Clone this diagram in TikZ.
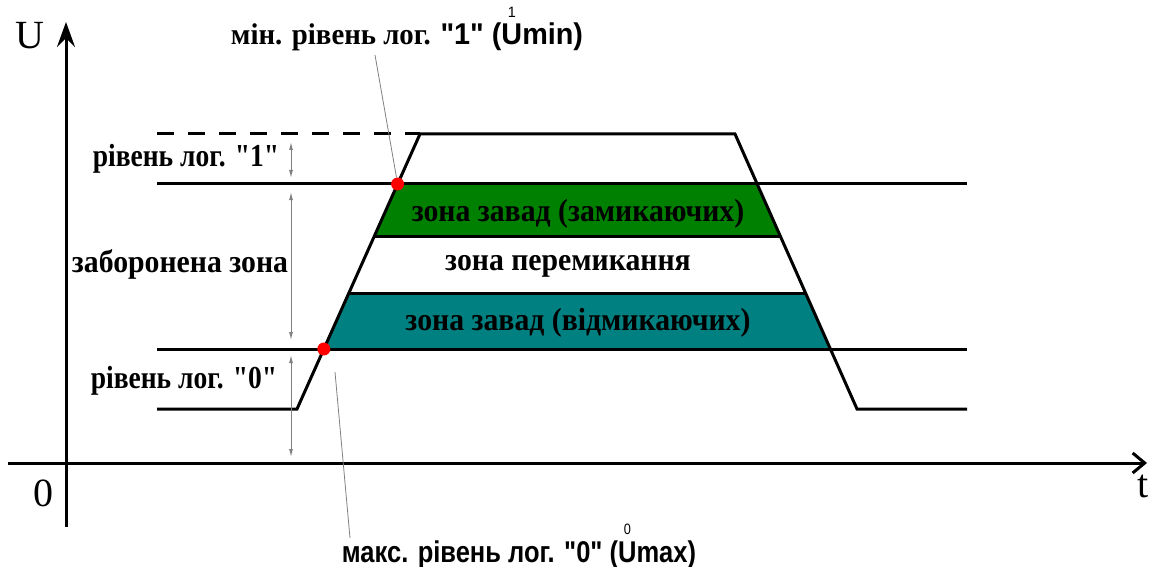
\documentclass[tikz,border=0pt]{standalone}
\usepackage{fontspec}
\setmainfont{Liberation Serif}
\newfontfamily\zonefont[FakeStretch=0.93]{Liberation Serif}
\newfontfamily\lvlfont[FakeStretch=0.86]{Liberation Serif}
\newfontfamily\leadserif[FakeStretch=0.96]{Liberation Serif}
\newfontfamily\leadsans[FakeStretch=0.96]{Liberation Sans}
\newfontfamily\narrowsans[FakeStretch=0.85]{Liberation Sans}
\usetikzlibrary{arrows.meta,calc}
\definecolor{zonegreen}{RGB}{0,128,0}
\definecolor{zoneteal}{RGB}{0,128,128}
\newcommand\upidx[2]{\ooalign{#1\cr\hidewidth\raisebox{0.92em}{\mdseries\fontsize{15}{15}\selectfont #2}\hidewidth\cr}}

\begin{document}
\begin{tikzpicture}[x=1pt, y=-1pt,
        signal/.style={line width=3pt},
        dimarrow/.style={gray, line width=1pt, {Latex[length=8pt,width=4pt]}-{Latex[length=8pt,width=4pt]}},
        leader/.style={gray, line width=0.8pt},
        zonelabel/.style={font=\zonefont\fontsize{32}{34}\selectfont\bfseries, anchor=base, inner sep=0pt},
        lvllabel/.style={font=\lvlfont\fontsize{32}{34}\selectfont\bfseries, anchor=base, inner sep=0pt},
        axislabel/.style={font=\fontsize{40}{40}\selectfont, inner sep=0pt},
        reddot/.style={circle, fill=red, inner sep=0pt, minimum size=13pt}]
        \useasboundingbox (0,0) rectangle (1149,567);
        \def\xl{157}
        \def\xr{967}
        \def\hi{134}
        \def\umin{184}
        \def\umax{349}
        \def\lo{409}

        % EDGES OF THE PULSE
        \coordinate (rise0) at (297,\lo);
        \coordinate (rise1) at (420,\hi);
        \coordinate (fall1) at (735,\hi);
        \coordinate (fall0) at (857,\lo);
        \foreach \n/\f in {a/0.8182, b/0.6255, c/0.4218, d/0.2182} {
            \coordinate (l\n) at ($(rise0)!\f!(rise1)$);
            \coordinate (r\n) at ($(fall0)!\f!(fall1)$);
        }

        % ZONES
        \fill[zonegreen] (la) -- (ra) -- (rb) -- (lb) -- cycle;
        \fill[zoneteal] (lc) -- (rc) -- (rd) -- (ld) -- cycle;
        \draw[signal] (lb) -- (rb);
        \draw[signal] (lc) -- (rc);

        % LEVELS
        \draw[signal] (\xl,\umin) -- (\xr,\umin);
        \draw[signal] (\xl,\umax) -- (\xr,\umax);
        \draw[signal, dash pattern=on 17pt off 14pt] (\xl,\hi) -- (rise1);
        \draw[signal] (\xl,\lo) -- (rise0) -- (rise1) -- (fall1) -- (fall0) -- (\xr,\lo);

        % AXES
        \draw[line width=3pt, -{Stealth[length=25pt,width=18pt,inset=9pt]}] (66,527) -- (66,22);
        \draw[line width=3pt, -{Straight Barb[length=12pt,width=20pt]}] (8,463) -- (1147,463);
        \node[axislabel] (ulabel) at (30,36) {U};
        \node[axislabel] (zerolabel) at (43,493) {0};
        \node[axislabel, anchor=east] (tlabel) at (1149,486) {t};

        % DIMENSIONS
        \foreach \ya/\yb in {142/178, 192/340, 355/457}
            \draw[dimarrow] (291,\ya) -- (291,\yb);
        \node[lvllabel] (lvlone) at (186,167) {рівень лог. "1"};
        \node[zonelabel] (forbid) at (180,272) {заборонена зона};
        \node[lvllabel] (lvlzero) at (184,388) {рівень лог. "0"};

        \node[zonelabel] (closing) at (578,221) {зона завад (замикаючих)};
        \node[zonelabel] (switching) at (568,270) {зона перемикання};
        \node[zonelabel] (opening) at (578,330) {зона завад (відмикаючих)};

        % THRESHOLD POINTS
        \node[anchor=base, inner sep=0pt, font=\fontsize{30}{32}\selectfont\bfseries] (minlabel) at (407,45)
            {\leadserif мін. рівень лог. \leadsans "1" (\upidx{U}{1}min)};
        \node[anchor=base, inner sep=0pt, font=\narrowsans\fontsize{30}{32}\selectfont\bfseries] (maxlabel) at (519,562)
            {макс. рівень лог. "0" (\upidx{U}{0}max)};
        \coordinate (minfoot) at (375,55);
        \coordinate (maxhead) at (335,372);
        \coordinate (maxfoot) at (350,538);
        \node[reddot] (mindot) at (la) {};
        \node[reddot] (maxdot) at (ld) {};
        \draw[leader] (minfoot) -- (mindot);
        \draw[leader] (maxhead) -- (maxfoot);
    \end{tikzpicture}
\end{document}
